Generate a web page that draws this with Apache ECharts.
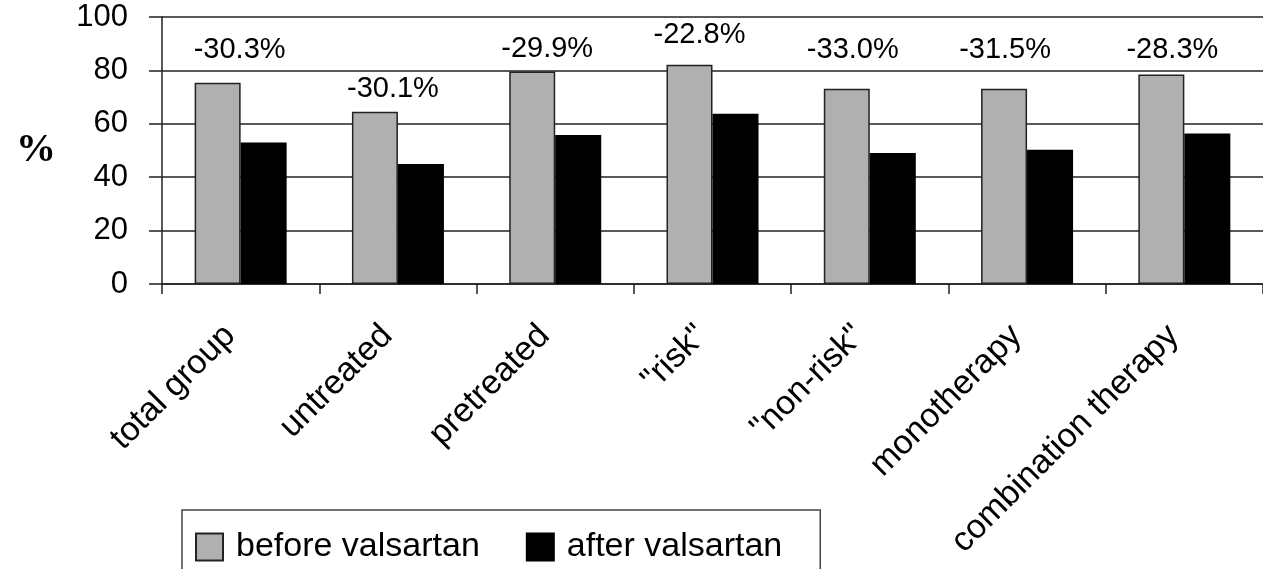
<!DOCTYPE html>
<html>
<head>
<meta charset="utf-8">
<script src="https://cdn.jsdelivr.net/npm/echarts@6/dist/echarts.min.js"></script>
<style>
html,body{margin:0;padding:0;background:#fff;}
#chart{width:1263px;height:569px;}
</style>
</head>
<body>
<div id="chart"></div>
<script>
const categories = ['total group', 'untreated', 'pretreated', '"risk"', '"non-risk"', 'monotherapy', 'combination therapy'];
const seriesNames = ['before valsartan', 'after valsartan'];
const beforeValues = [75.4, 64.5, 79.6, 82.1, 73.1, 73.1, 78.5];
const afterValues = [53.0, 44.9, 55.8, 63.8, 49.1, 50.3, 56.4];
const changeLabels = ['-30.3%', '-30.1%', '-29.9%', '-22.8%', '-33.0%', '-31.5%', '-28.3%'];
const changeLabelLevels = [87.7, 72.9, 88.2, 93.4, 87.7, 87.7, 87.7];
const yMin = 0, yMax = 100, yStep = 20;

// layout-only nudges (px) for the change labels
const labelNudgeX = [-1, -5, -8, -13, -17, -22, -12];

const FONT = '"Liberation Sans", Arial, sans-serif';
const chart = echarts.init(document.getElementById('chart'), null, {renderer: 'canvas'});

chart.setOption({
  animation: false,
  backgroundColor: '#fff',
  grid: {left: 162, top: 17, bottom: 285, right: -13, containLabel: false},
  legend: {
    data: seriesNames,
    left: 182, top: 510,
    orient: 'horizontal',
    icon: 'rect',
    itemWidth: 27, itemHeight: 27,
    itemGap: 46,
    padding: [20, 38, 40, 13],
    borderColor: '#444', borderWidth: 1.5,
    textStyle: {fontFamily: FONT, fontSize: 34, color: '#000', padding: [0, 0, 0, 8]}
  },
  xAxis: {
    type: 'category',
    data: categories,
    boundaryGap: true,
    axisLine: {show: true, lineStyle: {color: '#222', width: 1.5}},
    axisTick: {show: true, interval: 0, length: 10, alignWithLabel: false, lineStyle: {color: '#222', width: 1.5}},
    axisLabel: {interval: 0, rotate: 45, fontFamily: FONT, fontSize: 34, color: '#000', margin: 36, padding: [0, 15, 0, 0]},
    splitLine: {show: false}
  },
  yAxis: {
    type: 'value',
    min: yMin, max: yMax, interval: yStep,
    name: '%',
    nameLocation: 'middle',
    nameRotate: 0,
    nameGap: 106,
    nameTextStyle: {fontFamily: '"Liberation Serif", "Times New Roman", serif', fontWeight: 'bold', fontSize: 40, color: '#000', padding: [14, 0, 0, 0]},
    axisLine: {show: true, lineStyle: {color: '#222', width: 1.5}},
    axisTick: {show: true, length: 13, lineStyle: {color: '#222', width: 1.5}},
    axisLabel: {fontFamily: FONT, fontSize: 31, color: '#000', margin: 34},
    splitLine: {show: true, lineStyle: {color: '#222', width: 1.5}}
  },
  series: [
    {
      name: seriesNames[0], type: 'bar', data: beforeValues,
      barWidth: 46, barGap: '0%',
      itemStyle: {color: '#b0b0b0', borderColor: '#222', borderWidth: 1.5}
    },
    {
      name: seriesNames[1], type: 'bar', data: afterValues,
      barWidth: 46, barGap: '0%',
      itemStyle: {color: '#000', borderColor: '#000', borderWidth: 1.5}
    },
    {
      type: 'scatter',
      symbolSize: 0,
      silent: true,
      z: 10,
      itemStyle: {opacity: 1},
      data: changeLabelLevels.map((v, i) => ({
        value: [i, v],
        label: {
          show: true, position: 'inside', formatter: changeLabels[i],
          offset: [labelNudgeX[i], 0],
          fontFamily: FONT, fontSize: 29, color: '#000',
          textBorderWidth: 0, textBorderColor: 'transparent'
        }
      }))
    }
  ]
});
</script>
</body>
</html>
